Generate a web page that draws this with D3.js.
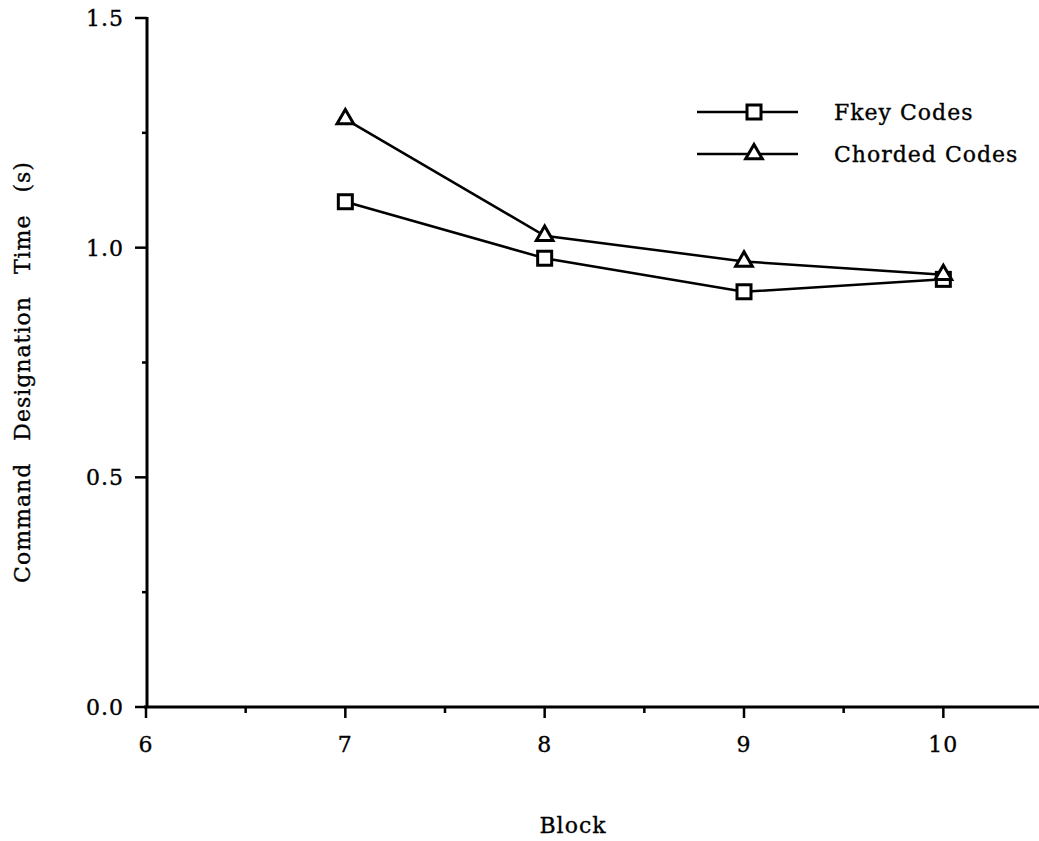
<!DOCTYPE html>
<html>
<head>
<meta charset="utf-8">
<script src="https://cdn.jsdelivr.net/npm/d3@7"></script>
<style>
  html, body { margin: 0; padding: 0; background: #fff; }
  svg { display: block; }
  text { font-family: "DejaVu Serif", "Liberation Serif", serif; fill: #000; stroke: #000; stroke-width: 0.35; letter-spacing: 1px; }
</style>
</head>
<body>
<svg id="chart" width="1039" height="841"></svg>
<script>
// Blocks and mean command designation times (s)
const blocks = [7, 8, 9, 10];
const fkeyTimes = [1.10, 0.977, 0.904, 0.931];
const chordedTimes = [1.28, 1.026, 0.970, 0.941];
const seriesNames = ["Fkey Codes", "Chorded Codes"];
const xTicks = [6, 7, 8, 9, 10];
const yTicks = [0.0, 0.5, 1.0, 1.5];

const svg = d3.select("#chart");
const x = d3.scaleLinear().domain([6, 10.5]).range([146, 1043]);
const y = d3.scaleLinear().domain([0, 1.5]).range([707, 18]);

const font = 22;

// X axis
const xAxis = svg.append("g").attr("transform", `translate(0,${y(0)})`);
xAxis.append("line").attr("x1", x(6) - 2).attr("x2", 1039).attr("stroke", "#000").attr("stroke-width", 3);
xAxis.selectAll(".major").data(xTicks).join("line")
  .attr("x1", d => x(d)).attr("x2", d => x(d)).attr("y1", 0).attr("y2", 11)
  .attr("stroke", "#000").attr("stroke-width", 2.5);
xAxis.selectAll(".minor").data([6.5, 7.5, 8.5, 9.5]).join("line")
  .attr("x1", d => x(d)).attr("x2", d => x(d)).attr("y1", 0).attr("y2", 6)
  .attr("stroke", "#000").attr("stroke-width", 2.5);
xAxis.selectAll("text").data(xTicks).join("text")
  .attr("x", d => x(d)).attr("y", 45).attr("text-anchor", "middle")
  .attr("font-size", font).text(d => d);

// Y axis
const yAxis = svg.append("g").attr("transform", `translate(${x(6) + 1},0)`);
yAxis.append("line").attr("y1", y(1.5) - 1).attr("y2", y(0) + 1).attr("stroke", "#000").attr("stroke-width", 3);
yAxis.selectAll(".major").data(yTicks).join("line")
  .attr("x1", -12).attr("x2", 0).attr("y1", d => y(d)).attr("y2", d => y(d))
  .attr("stroke", "#000").attr("stroke-width", 2.5);
yAxis.selectAll(".minor").data([0.25, 0.75, 1.25]).join("line")
  .attr("x1", -5).attr("x2", 0).attr("y1", d => y(d)).attr("y2", d => y(d))
  .attr("stroke", "#000").attr("stroke-width", 2.5);
yAxis.selectAll("text").data(yTicks).join("text")
  .attr("x", -23).attr("y", d => y(d) + 8).attr("text-anchor", "end")
  .attr("font-size", font).text(d => d.toFixed(1));

// Axis titles
svg.append("text").attr("x", 573).attr("y", 833).attr("text-anchor", "middle")
  .attr("font-size", font).text("Block");
svg.append("text").attr("transform", "translate(30,372) rotate(-90)")
  .attr("text-anchor", "middle").attr("font-size", font).attr("word-spacing", 14)
  .text("Command Designation Time (s)");

// Series lines
const line = d3.line().x(d => x(d[0])).y(d => y(d[1]));
const fkeyPts = blocks.map((b, i) => [b, fkeyTimes[i]]);
const chordPts = blocks.map((b, i) => [b, chordedTimes[i]]);

function drawSquare(g, cx, cy) {
  g.append("rect").attr("x", cx - 7).attr("y", cy - 7).attr("width", 14).attr("height", 14)
    .attr("fill", "#fff").attr("stroke", "#000").attr("stroke-width", 3);
}
function drawTriangle(g, cx, cy) {
  const tri = d3.symbol().type(d3.symbolTriangle).size(120);
  g.append("path").attr("d", tri()).attr("transform", `translate(${cx},${cy})`)
    .attr("fill", "#fff").attr("stroke", "#000").attr("stroke-width", 3);
}

const plot = svg.append("g");
plot.append("path").datum(chordPts).attr("d", line)
  .attr("fill", "none").attr("stroke", "#000").attr("stroke-width", 2.5);
plot.append("path").datum(fkeyPts).attr("d", line)
  .attr("fill", "none").attr("stroke", "#000").attr("stroke-width", 2.5);
fkeyPts.forEach(p => drawSquare(plot, x(p[0]), y(p[1])));
chordPts.forEach(p => drawTriangle(plot, x(p[0]), y(p[1])));

// Legend
const legend = svg.append("g");
const legendRows = [{ name: seriesNames[0], cy: 112, mark: drawSquare },
                    { name: seriesNames[1], cy: 154, mark: drawTriangle }];
legendRows.forEach(r => {
  legend.append("line").attr("x1", 697).attr("x2", 798).attr("y1", r.cy).attr("y2", r.cy)
    .attr("stroke", "#000").attr("stroke-width", 2.5);
  r.mark(legend, 754, r.cy);
  legend.append("text").attr("x", 834).attr("y", r.cy + 8).attr("font-size", font).text(r.name);
});
</script>
</body>
</html>
